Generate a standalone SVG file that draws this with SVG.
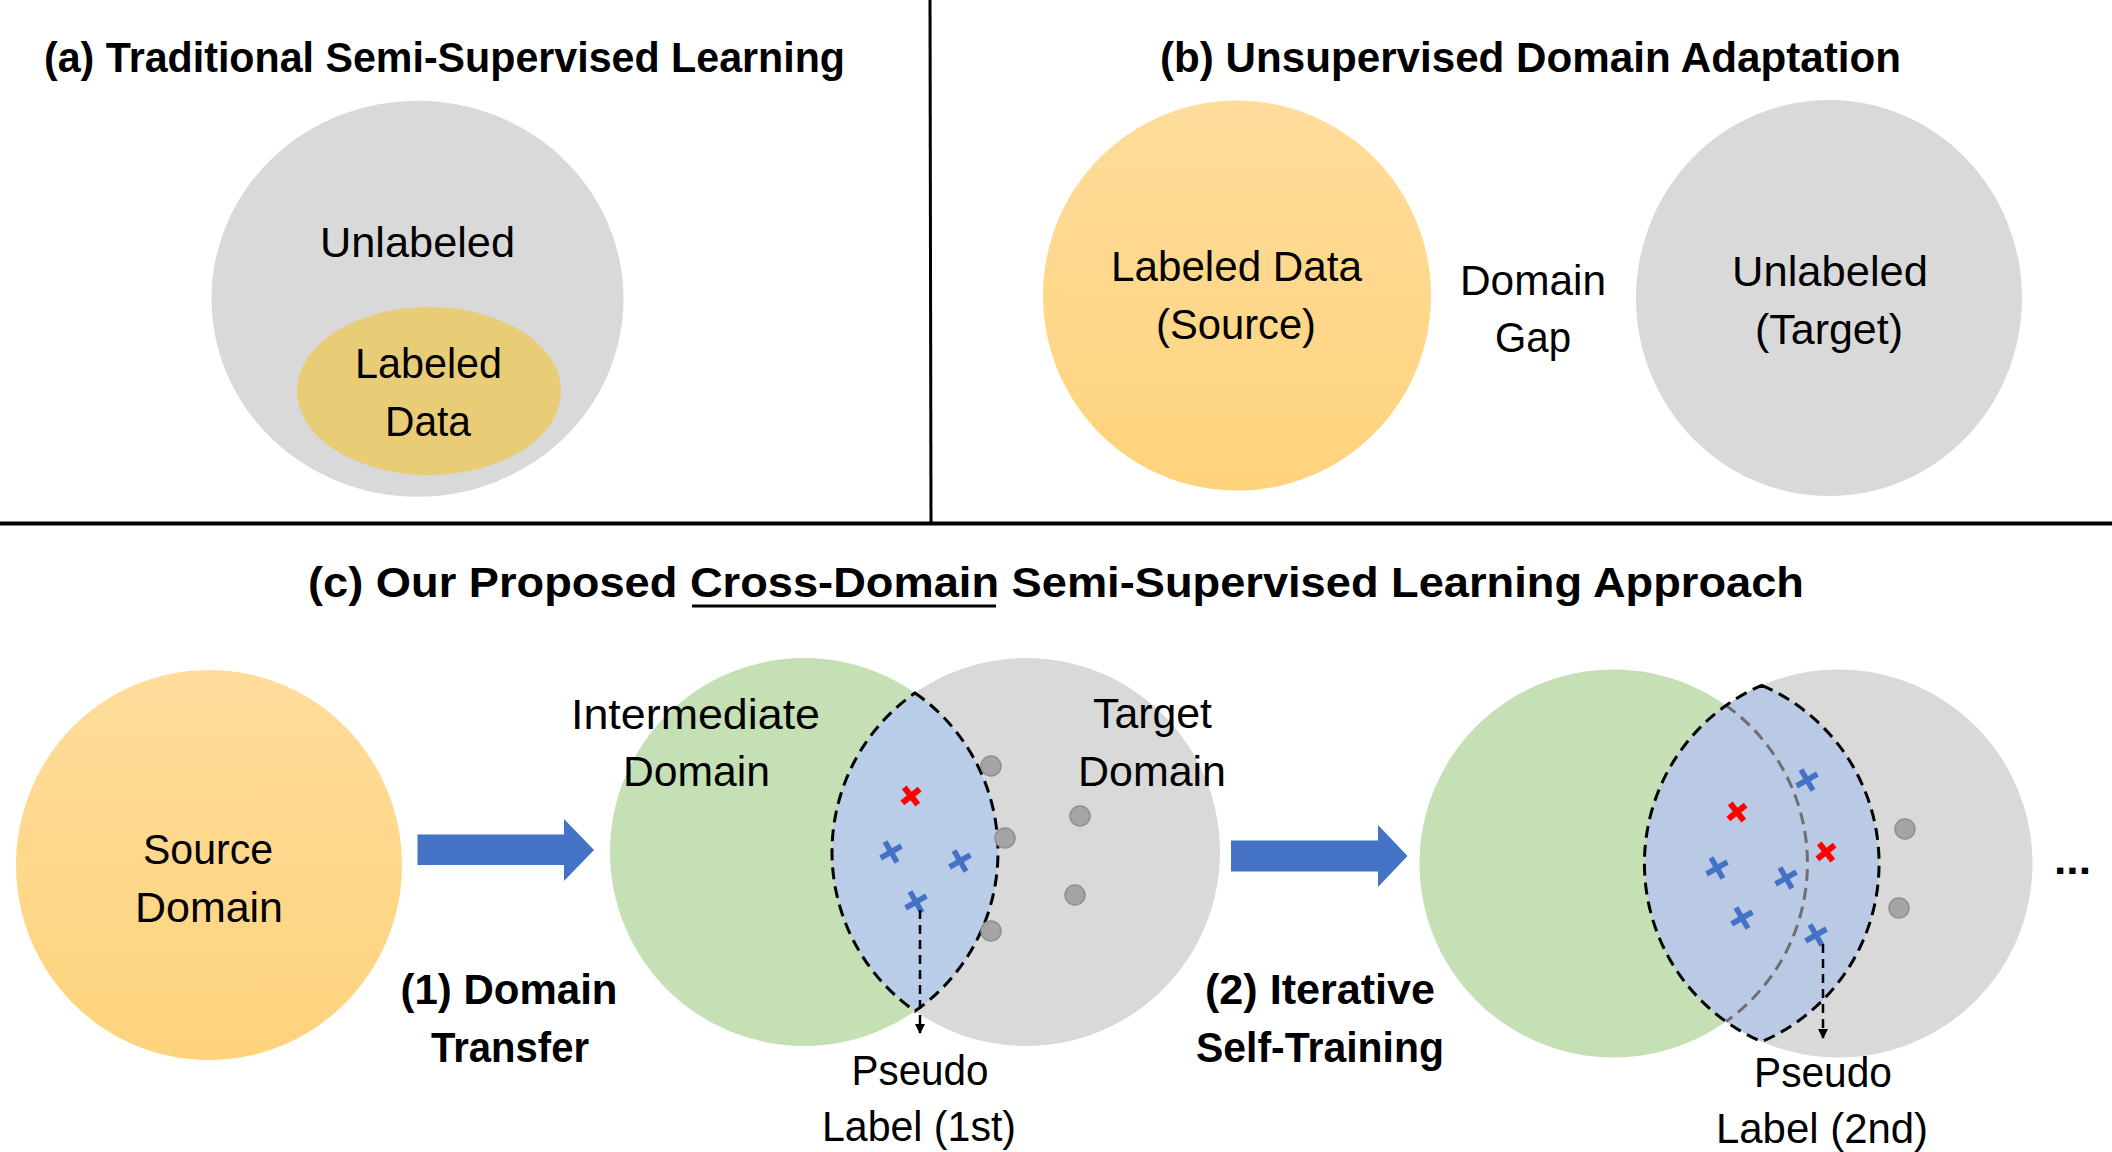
<svg xmlns="http://www.w3.org/2000/svg" xmlns:xlink="http://www.w3.org/1999/xlink" width="2112" height="1152" viewBox="0 0 2112 1152">
<style>
  .t { font-family: "Liberation Sans", Arial, sans-serif; font-size: 43px; fill: #000; }
  .b { font-weight: bold; }
  .m { text-anchor: middle; }
  .gray { fill: #D9D9D9; }
  .green { fill: #C5E0B4; }
  .orange { fill: url(#og); }
  .dot { fill: #A5A5A5; stroke: #8E8E8E; stroke-width: 1.5; }
  .lens { stroke: #000; stroke-width: 3; stroke-dasharray: 12 7; }
  .bigarrow { fill: #4472C4; }
  .dash { stroke: #000; stroke-width: 2.5; stroke-dasharray: 9 6; fill: none; }
  .xb line { stroke: #4472C4; stroke-width: 5.5; }
  .xr line { stroke: #FF0000; stroke-width: 6; }
</style>
<defs>
  <linearGradient id="og" x1="0" y1="0" x2="0" y2="1">
    <stop offset="0" stop-color="#FFDC9B"/>
    <stop offset="1" stop-color="#FED37C"/>
  </linearGradient>
  <marker id="ah" viewBox="0 0 10 10" refX="9" refY="5" markerWidth="4" markerHeight="4" orient="auto" markerUnits="strokeWidth">
    <path d="M0 0 L10 5 L0 10 z" fill="#000"/>
  </marker>
  <g id="xblue" class="xb"><line x1="-12" y1="0" x2="12" y2="0"/><line x1="0" y1="-12" x2="0" y2="12"/></g>
  <g id="xred" class="xr"><line x1="-11" y1="0" x2="11" y2="0"/><line x1="0" y1="-11" x2="0" y2="11"/></g>
</defs>
<rect width="2112" height="1152" fill="#fff"/>

<g id="dividers">
  <line x1="930" y1="0" x2="931" y2="523" stroke="#000" stroke-width="3"/>
  <line x1="0" y1="523.5" x2="2112" y2="523.5" stroke="#000" stroke-width="4"/>
</g>

<!-- (a) -->
<g id="title-a"><text class="t b" x="44" y="72" textLength="801" lengthAdjust="spacingAndGlyphs">(a) Traditional Semi-Supervised Learning</text></g>
<g id="a-unlabeled">
  <ellipse class="gray" cx="417.5" cy="298.7" rx="206" ry="198"/>
  <text class="t m" x="417.5" y="257" textLength="195" lengthAdjust="spacingAndGlyphs">Unlabeled</text>
</g>
<g id="a-labeled">
  <ellipse cx="429" cy="391" rx="132" ry="84" fill="#E9CC76"/>
  <text class="t m" x="428.5" y="378" textLength="147" lengthAdjust="spacingAndGlyphs">Labeled</text>
  <text class="t m" x="428" y="436" textLength="86" lengthAdjust="spacingAndGlyphs">Data</text>
</g>

<!-- (b) -->
<g id="title-b"><text class="t b" x="1160" y="72" textLength="741" lengthAdjust="spacingAndGlyphs">(b) Unsupervised Domain Adaptation</text></g>
<g id="b-source">
  <ellipse class="orange" cx="1237" cy="295.6" rx="194" ry="195"/>
  <text class="t m" x="1236.5" y="281" textLength="251" lengthAdjust="spacingAndGlyphs">Labeled Data</text>
  <text class="t m" x="1236" y="339" textLength="160" lengthAdjust="spacingAndGlyphs">(Source)</text>
</g>
<g id="b-gap">
  <text class="t m" x="1533" y="295" textLength="146" lengthAdjust="spacingAndGlyphs">Domain</text>
  <text class="t m" x="1533" y="352" textLength="76" lengthAdjust="spacingAndGlyphs">Gap</text>
</g>
<g id="b-target">
  <ellipse class="gray" cx="1829" cy="298" rx="193" ry="198"/>
  <text class="t m" x="1830" y="286" textLength="196" lengthAdjust="spacingAndGlyphs">Unlabeled</text>
  <text class="t m" x="1829" y="344" textLength="148" lengthAdjust="spacingAndGlyphs">(Target)</text>
</g>

<!-- (c) -->
<g id="title-c">
  <text class="t b" x="308" y="597" textLength="1496" lengthAdjust="spacingAndGlyphs">(c) Our Proposed Cross-Domain Semi-Supervised Learning Approach</text>
  <line x1="692" y1="606" x2="996" y2="606" stroke="#000" stroke-width="3"/>
</g>

<g id="source-domain">
  <ellipse class="orange" cx="209" cy="865" rx="193" ry="195"/>
  <text class="t m" x="208" y="864" textLength="130" lengthAdjust="spacingAndGlyphs">Source</text>
  <text class="t m" x="209" y="922" textLength="148" lengthAdjust="spacingAndGlyphs">Domain</text>
</g>

<g id="venn1">
  <circle class="green" cx="804" cy="852" r="194"/>
  <circle class="gray" cx="1026" cy="852" r="194"/>
  <path class="lens" fill="#B9CCE8" d="M915 692.9 A194 194 0 0 1 915 1011.1 A194 194 0 0 1 915 692.9 Z"/>
  <circle class="dot" cx="991" cy="766" r="10"/>
  <circle class="dot" cx="1005" cy="838" r="10"/>
  <circle class="dot" cx="991" cy="931" r="10"/>
  <circle class="dot" cx="1080" cy="816" r="10"/>
  <circle class="dot" cx="1075" cy="895" r="10"/>
  <use href="#xred" transform="translate(911 796) rotate(-38)"/>
  <use href="#xblue" transform="translate(891 852) rotate(-30)"/>
  <use href="#xblue" transform="translate(960 861) rotate(-30)"/>
  <use href="#xblue" transform="translate(916 902) rotate(-30)"/>
  <text class="t m" x="695.5" y="729" textLength="249" lengthAdjust="spacingAndGlyphs">Intermediate</text>
  <text class="t m" x="696.5" y="786" textLength="147" lengthAdjust="spacingAndGlyphs">Domain</text>
  <text class="t m" x="1152.5" y="728" textLength="119" lengthAdjust="spacingAndGlyphs">Target</text>
  <text class="t m" x="1152" y="786" textLength="148" lengthAdjust="spacingAndGlyphs">Domain</text>
</g>

<g id="pseudo1">
  <text class="t m" x="920" y="1085" textLength="137" lengthAdjust="spacingAndGlyphs">Pseudo</text>
  <text class="t m" x="919" y="1141" textLength="194" lengthAdjust="spacingAndGlyphs">Label (1st)</text>
</g>

<g id="step1">
  <text class="t b m" x="509" y="1004" textLength="217" lengthAdjust="spacingAndGlyphs">(1) Domain</text>
  <text class="t b m" x="510" y="1062" textLength="158" lengthAdjust="spacingAndGlyphs">Transfer</text>
</g>
<g id="step2">
  <text class="t b m" x="1320" y="1004" textLength="230" lengthAdjust="spacingAndGlyphs">(2) Iterative</text>
  <text class="t b m" x="1320" y="1062" textLength="248" lengthAdjust="spacingAndGlyphs">Self-Training</text>
</g>

<g id="venn2">
  <circle class="green" cx="1613.5" cy="863.5" r="194"/>
  <circle class="gray" cx="1838.5" cy="863.5" r="194"/>
  <path fill="#B4C7E7" fill-opacity="0.82" d="M1761.75 685.3 A194 194 0 0 1 1761.75 1041.7 A194 194 0 0 1 1761.75 685.3 Z"/>
  <path d="M1726 705.5 A194 194 0 0 1 1726 1021.5" fill="none" stroke="#6F6F6F" stroke-width="3" stroke-dasharray="12 7"/>
  <path class="lens" fill="none" d="M1761.75 685.3 A194 194 0 0 1 1761.75 1041.7 A194 194 0 0 1 1761.75 685.3 Z"/>
  <circle class="dot" cx="1905" cy="829" r="10"/>
  <circle class="dot" cx="1899" cy="908" r="10"/>
  <use href="#xblue" transform="translate(1807 780) rotate(-30)"/>
  <use href="#xred" transform="translate(1737 812) rotate(-38)"/>
  <use href="#xred" transform="translate(1826 852) rotate(-38)"/>
  <use href="#xblue" transform="translate(1717 868) rotate(-30)"/>
  <use href="#xblue" transform="translate(1786 878) rotate(-30)"/>
  <use href="#xblue" transform="translate(1742 918) rotate(-30)"/>
  <use href="#xblue" transform="translate(1816 935) rotate(-30)"/>
</g>

<g id="pseudo2">
  <text class="t m" x="1823" y="1087" textLength="138" lengthAdjust="spacingAndGlyphs">Pseudo</text>
  <text class="t m" x="1822" y="1143" textLength="212" lengthAdjust="spacingAndGlyphs">Label (2nd)</text>
</g>

<g id="ellipsis"><text class="t b" x="2054" y="874" textLength="37" lengthAdjust="spacingAndGlyphs">...</text></g>

<g id="connectors">
  <polygon class="bigarrow" points="417.5,834.5 564,834.5 564,819 594,850 564,881 564,865 417.5,865"/>
  <polygon class="bigarrow" points="1231,840.5 1378,840.5 1378,825 1407.5,856 1378,887 1378,871.5 1231,871.5"/>
  <path class="dash" d="M920 910 L920 1033" marker-end="url(#ah)"/>
  <path class="dash" d="M1823 944 L1823 1038" marker-end="url(#ah)"/>
</g>
</svg>
